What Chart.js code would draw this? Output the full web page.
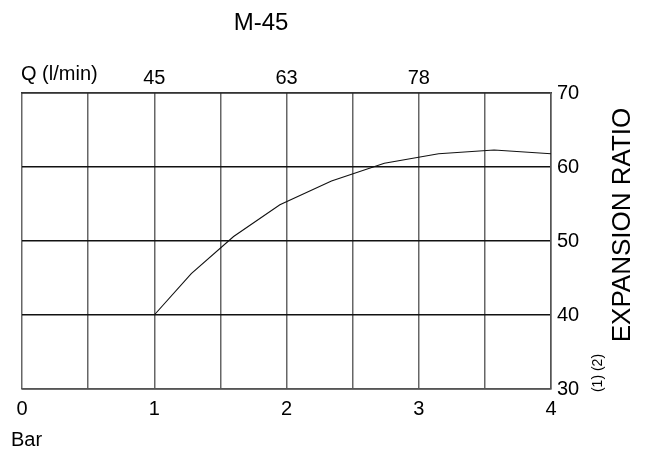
<!DOCTYPE html>
<html>
<head>
<meta charset="utf-8">
<script src="https://cdn.jsdelivr.net/npm/chart.js@4.4.0/dist/chart.umd.min.js"></script>
<style>
  html, body { margin: 0; padding: 0; background: #fff; }
  #wrap { width: 650px; height: 450px; }
</style>
</head>
<body>
<div id="wrap"><canvas id="myChart"></canvas></div>
<script>
// pressure (bar) vs expansion ratio
const pressureBar = [1.0, 1.28, 1.6, 1.95, 2.34, 2.74, 3.15, 3.57, 4.0];
const expansionRatio = [40, 45.6, 50.6, 54.9, 58.1, 60.5, 61.8, 62.3, 61.8];

// flow rate labels along the top axis
const flowAt = [1, 2, 3];
const flowLabels = ['45', '63', '78'];

const FONT = "'Liberation Sans', Arial, sans-serif";

const extraText = {
	id: 'extraText',
	afterDraw(chart) {
		const ctx = chart.ctx;
		ctx.save();
		ctx.fillStyle = '#000';
		ctx.textBaseline = 'middle';

		ctx.font = '24px ' + FONT;
		ctx.textAlign = 'center';
		ctx.fillText('M-45', 261, 23);

		ctx.font = '20px ' + FONT;
		ctx.textAlign = 'left';
		ctx.fillText('Q (l/min)', 21, 74);
		ctx.fillText('Bar', 11, 440);

		ctx.translate(623, 225);
		ctx.rotate(-Math.PI / 2);
		ctx.textAlign = 'center';
		ctx.font = '26px ' + FONT;
		ctx.fillText('EXPANSION RATIO', 0, 0);
		ctx.restore();

		ctx.save();
		ctx.fillStyle = '#000';
		ctx.translate(598, 373);
		ctx.rotate(-Math.PI / 2);
		ctx.textAlign = 'center';
		ctx.textBaseline = 'middle';
		ctx.font = '14px ' + FONT;
		ctx.fillText('(1) (2)', 0, 0);
		ctx.restore();
	}
};

new Chart(document.getElementById('myChart'), {
	type: 'scatter',
	data: {
		datasets: [{
			data: pressureBar.map((x, i) => ({ x: x, y: expansionRatio[i] })),
			showLine: true,
			borderColor: '#111',
			borderWidth: 1.1,
			pointRadius: 0,
			tension: 0
		}]
	},
	plugins: [extraText],
	options: {
		animation: false,
		responsive: true,
		maintainAspectRatio: false,
		events: [],
		layout: {
			padding: { left: 22, right: 0, top: 0, bottom: 0 }
		},
		plugins: {
			legend: { display: false },
			tooltip: { enabled: false }
		},
		scales: {
			x: {
				type: 'linear',
				position: 'bottom',
				min: 0,
				max: 4,
				afterFit: s => { s.height = 61; },
				border: { color: '#555', width: 1.5 },
				grid: { color: '#666', lineWidth: 1.5, drawTicks: false },
				ticks: {
					stepSize: 0.5,
					padding: 8,
					color: '#000',
					maxRotation: 0,
					autoSkip: false,
					font: { family: FONT, size: 20 },
					callback: v => Number.isInteger(v) ? v : ''
				}
			},
			x2: {
				type: 'linear',
				position: 'top',
				min: 0,
				max: 4,
				afterFit: s => { s.height = 93; },
				afterBuildTicks: s => { s.ticks = flowAt.map(v => ({ value: v })); },
				border: { color: '#333', width: 1.5 },
				grid: { display: false, drawTicks: false },
				ticks: {
					padding: 3,
					color: '#000',
					maxRotation: 0,
					autoSkip: false,
					font: { family: FONT, size: 20 },
					callback: (v) => {
						const i = flowAt.indexOf(v);
						return i >= 0 ? flowLabels[i] : '';
					}
				}
			},
			y: {
				position: 'right',
				min: 30,
				max: 70,
				afterFit: s => { s.width = 99; },
				border: { color: '#555', width: 1.5 },
				grid: { color: '#111', lineWidth: 1.5, drawTicks: false },
				ticks: {
					stepSize: 10,
					padding: 6,
					color: '#000',
					font: { family: FONT, size: 20 }
				}
			}
		}
	}
});
</script>
</body>
</html>
